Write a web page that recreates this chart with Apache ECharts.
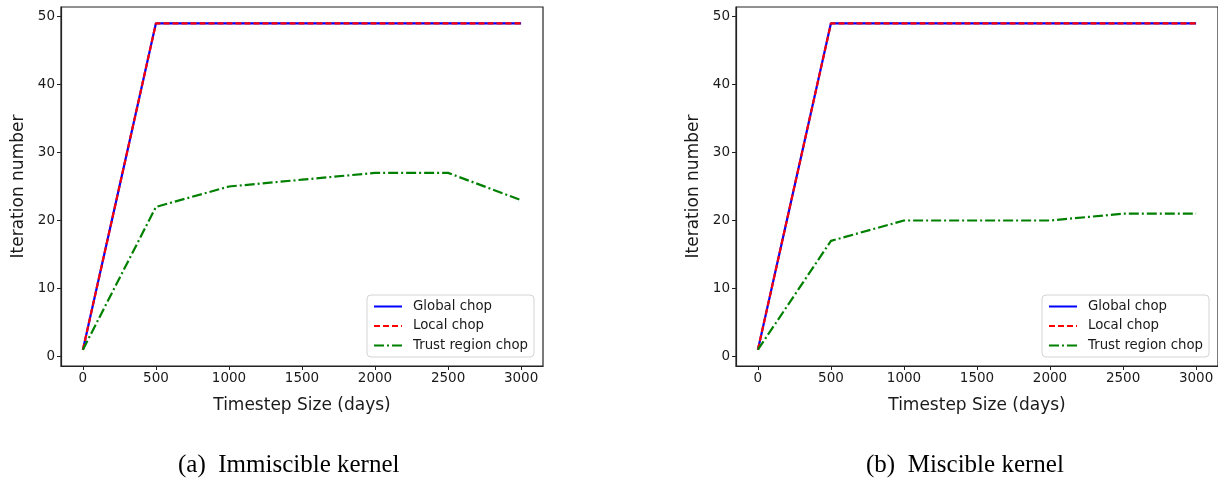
<!DOCTYPE html>
<html>
<head>
<meta charset="utf-8">
<script src="https://cdn.jsdelivr.net/npm/echarts@6/dist/echarts.min.js"></script>
<style>
  html, body { margin: 0; padding: 0; background: #fff; }
  #chart { width: 1218px; height: 481px; }
</style>
</head>
<body>
<div id="chart"></div>
<script>
// timestep sizes (days)
const timesteps = [0, 500, 1000, 1500, 2000, 2500, 3000];
const xTicks = [0, 500, 1000, 1500, 2000, 2500, 3000];
const yTicks = [0, 10, 20, 30, 40, 50];

// (a) Immiscible kernel
const globalA = [1, 49, 49, 49, 49, 49, 49];
const localA = [1, 49, 49, 49, 49, 49, 49];
const trustA = [1, 22, 25, 26, 27, 27, 23];

// (b) Miscible kernel
const globalB = [1, 49, 49, 49, 49, 49, 49];
const localB = [1, 49, 49, 49, 49, 49, 49];
const trustB = [1, 17, 20, 20, 20, 21, 21];

const names = ["Global chop", "Local chop", "Trust region chop"];

const pairs = (ys) => timesteps.map((x, i) => [x, ys[i]]);

const txt = "#1a1a1a";
const font = "DejaVu Sans";

function xAxis(idx) {
  return {
    type: "value",
    gridIndex: idx,
    min: -150,
    max: 3150,
    name: "Timestep Size (days)",
    nameLocation: "middle",
    nameGap: 31,
    nameTextStyle: { fontSize: 17, color: txt, fontFamily: font },
    axisLine: { show: true, onZero: false, lineStyle: { color: "#222", width: 1.2 } },
    axisTick: { show: true, inside: false, length: 4, customValues: xTicks, lineStyle: { color: "#222" } },
    axisLabel: {
      customValues: xTicks, fontSize: 13.5, color: txt, fontFamily: font, margin: 5,
      formatter: (v) => String(v),
    },
    splitLine: { show: false },
  };
}

function yAxis(idx) {
  return {
    type: "value",
    gridIndex: idx,
    min: -1.4,
    max: 51.4,
    name: "Iteration number",
    nameLocation: "middle",
    nameGap: 34,
    nameTextStyle: { fontSize: 17, color: txt, fontFamily: font },
    axisLine: { show: true, onZero: false, lineStyle: { color: "#222", width: 1.2 } },
    axisTick: { show: true, inside: false, length: 4, customValues: yTicks, lineStyle: { color: "#222" } },
    axisLabel: { customValues: yTicks, fontSize: 13.5, color: txt, fontFamily: font, margin: 6 },
    splitLine: { show: false },
  };
}

function legend(left) {
  return {
    data: names,
    orient: "vertical",
    left: left,
    top: 295,
    padding: [5, 6, 5, 6],
    itemWidth: 28,
    itemHeight: 14,
    itemGap: 6.5,
    backgroundColor: "rgba(255,255,255,0.85)",
    borderColor: "#d4d4d4",
    borderWidth: 1,
    borderRadius: 4,
    itemStyle: { opacity: 0 },
    textStyle: { fontSize: 13.3, color: txt, fontFamily: font, padding: [0, 0, 0, 6] },
    selectedMode: false,
  };
}

function lines(idx, g, l, t) {
  return [
    {
      name: names[0], type: "line", xAxisIndex: idx, yAxisIndex: idx,
      data: pairs(g), symbol: "none", z: 2,
      lineStyle: { color: "#0000ff", width: 2.2, type: "solid" },
      itemStyle: { color: "#0000ff" },
    },
    {
      name: names[1], type: "line", xAxisIndex: idx, yAxisIndex: idx,
      data: pairs(l), symbol: "none", z: 3,
      lineStyle: { color: "#ff0000", width: 2.2, type: [6, 3] },
      itemStyle: { color: "#ff0000" },
    },
    {
      name: names[2], type: "line", xAxisIndex: idx, yAxisIndex: idx,
      data: pairs(t), symbol: "none", z: 4,
      lineStyle: { color: "#008000", width: 2.2, type: [10, 3, 2, 3] },
      itemStyle: { color: "#008000" },
    },
  ];
}

const chart = echarts.init(document.getElementById("chart"));
chart.setOption({
  backgroundColor: "#fff",
  animation: false,
  grid: [
    { left: 61, top: 7, width: 482, height: 359, show: true, borderColor: "#222", borderWidth: 1.2 },
    { left: 736, top: 7, width: 482, height: 359, show: true, borderColor: "#222", borderWidth: 1.2 },
  ],
  xAxis: [xAxis(0), xAxis(1)],
  yAxis: [yAxis(0), yAxis(1)],
  legend: [legend(367), legend(1042)],
  series: [].concat(lines(0, globalA, localA, trustA), lines(1, globalB, localB, trustB)),
  graphic: [
    {
      type: "text", left: 178, top: 453,
      style: { text: "(a)  Immiscible kernel", fontSize: 25, fontFamily: "Liberation Serif", fill: "#000" },
    },
    {
      type: "text", left: 866, top: 453,
      style: { text: "(b)  Miscible kernel", fontSize: 25, fontFamily: "Liberation Serif", fill: "#000" },
    },
  ],
});
</script>
</body>
</html>
